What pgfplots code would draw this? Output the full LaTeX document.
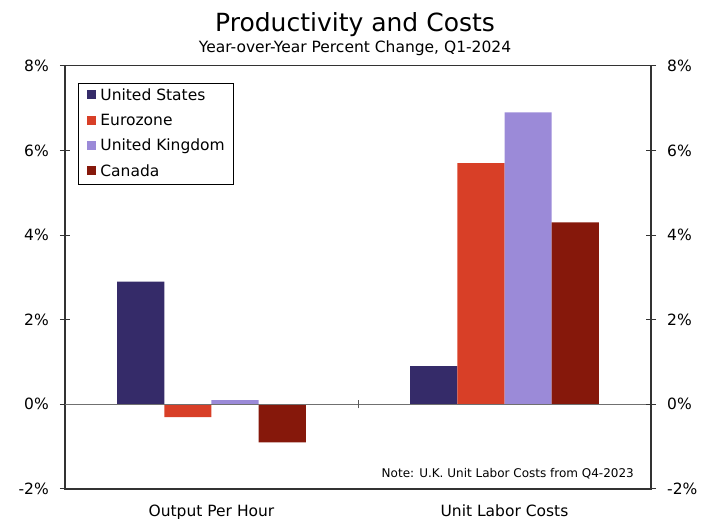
\documentclass[border=0pt]{standalone}
\usepackage{fontspec}
\setmainfont{DejaVu Sans}
\usepackage{pgfplots}
\pgfplotsset{compat=1.18}

\definecolor{cUS}{HTML}{352B69}
\definecolor{cEZ}{HTML}{D83F27}
\definecolor{cUK}{HTML}{9B8AD8}
\definecolor{cCA}{HTML}{86180B}
\definecolor{frame}{HTML}{333333}
\definecolor{zeroline}{HTML}{707070}

\begin{document}
\begin{tikzpicture}
\pgfplotsset{
  base/.style={
    width=586pt, height=423.3pt, scale only axis,
    xmin=-0.5, xmax=1.5, ymin=-2, ymax=8,
    ytick={-2,0,2,4,6,8},
    yticklabels={-2\%,0\%,2\%,4\%,6\%,8\%},
    tick align=center, major tick length=10pt,
    axis line style={draw=frame, line width=1.2pt},
    tick style={draw=frame, line width=1pt},
    ticklabel style={font=\fontsize{15.5}{18}\selectfont},
  },
  sq/.style={legend image code/.code={\fill[##1] (0pt,-3.2pt) rectangle (9pt,5.8pt);}},
}
\begin{axis}[base, at={(0,0)}, anchor=south west,
  ybar, bar width=47.2pt,
  xtick={0,1}, xticklabels={Output Per Hour, Unit Labor Costs},
  xtick style={draw=none},
  xticklabel style={anchor=base, inner sep=0pt, yshift=-17.3pt},
  ytick pos=left,
  yticklabel style={anchor=east, inner sep=0pt, xshift=-11pt},
  legend cell align=left,
  legend style={at={(0.0222,0.9591)}, anchor=north west,
    draw=black, line width=0.8pt, fill=white,
    inner xsep=9pt, inner ysep=5pt, row sep=9.7pt, column sep=4pt,
    font=\fontsize{15.5}{18}\selectfont,
    nodes={inner sep=0pt, text height=12pt, text depth=3.5pt}},
]
\addplot[fill=cUS, draw=none, bar shift=-70.8pt, sq] coordinates {(0,2.9) (1,0.9)};
\addplot[fill=cEZ, draw=none, bar shift=-23.6pt, sq] coordinates {(0,-0.3) (1,5.7)};
\addplot[fill=cUK, draw=none, bar shift=23.6pt, sq] coordinates {(0,0.1) (1,6.9)};
\addplot[fill=cCA, draw=none, bar shift=70.8pt, sq] coordinates {(0,-0.9) (1,4.3)};
\legend{United States, Eurozone, United Kingdom, Canada}
% zero line and the divider tick between the two groups
\draw[zeroline, line width=1.4pt] (axis cs:-0.5,0) -- (axis cs:1.5,0);
\draw[zeroline!80!black, line width=1pt] (axis cs:0.5,-0.095) -- (axis cs:0.5,0.095);
\end{axis}
\begin{axis}[base, at={(0,0)}, anchor=south west,
  axis y line*=right, hide x axis,
  yticklabel style={anchor=west, inner sep=0pt, xshift=11pt},
]
\end{axis}
\node[anchor=base, font=\fontsize{25}{30}\selectfont] at (290pt,457pt) {Productivity and Costs};
\node[anchor=base, font=\fontsize{15.5}{18}\selectfont] at (290pt,436.5pt) {Year-over-Year Percent Change, Q1-2024};
\node[anchor=base east, inner sep=0pt, font=\fontsize{12}{14}\selectfont] at (569pt,11pt) {Note: U.K. Unit Labor Costs from Q4-2023};
\pgfresetboundingbox
\useasboundingbox (-65pt,-30pt) rectangle (645pt,489pt);
\end{tikzpicture}
\end{document}
